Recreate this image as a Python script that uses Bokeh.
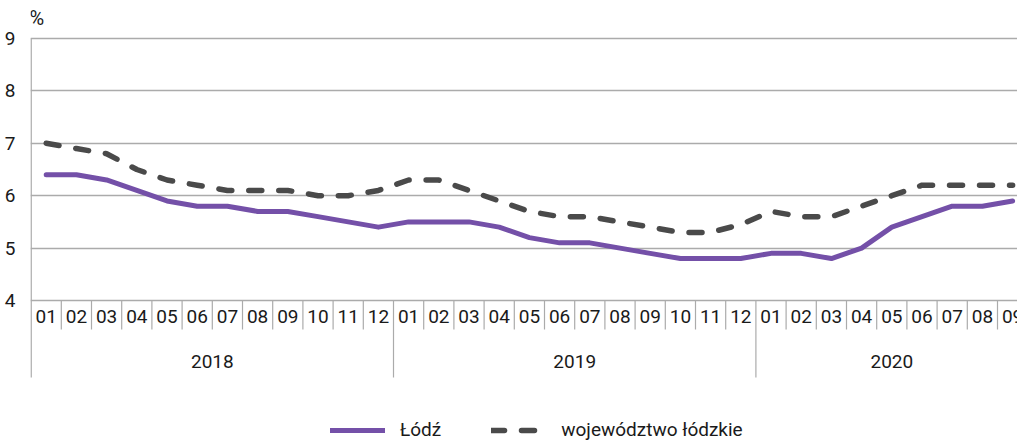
from bokeh.plotting import figure
from bokeh.models import Range1d, FixedTicker, Legend, LegendItem
from bokeh.core.properties import value
from bokeh.embed import file_html
from bokeh.resources import INLINE

# ---- data ----
years = ["2018", "2019", "2020"]
months_per_year = [12, 12, 9]
month_labels = ["01", "02", "03", "04", "05", "06", "07", "08", "09", "10", "11", "12",
                "01", "02", "03", "04", "05", "06", "07", "08", "09", "10", "11", "12",
                "01", "02", "03", "04", "05", "06", "07", "08", "09"]
lodz = [6.4, 6.4, 6.3, 6.1, 5.9, 5.8, 5.8, 5.7, 5.7, 5.6, 5.5, 5.4,
        5.5, 5.5, 5.5, 5.4, 5.2, 5.1, 5.1, 5.0, 4.9, 4.8, 4.8, 4.8,
        4.9, 4.9, 4.8, 5.0, 5.4, 5.6, 5.8, 5.8, 5.9]
woj = [7.0, 6.9, 6.8, 6.5, 6.3, 6.2, 6.1, 6.1, 6.1, 6.0, 6.0, 6.1,
       6.3, 6.3, 6.1, 5.9, 5.7, 5.6, 5.6, 5.5, 5.4, 5.3, 5.3, 5.45,
       5.7, 5.6, 5.6, 5.8, 6.0, 6.2, 6.2, 6.2, 6.2]
series_names = ["Łódź", "województwo łódzkie"]
y_ticks = [4, 5, 6, 7, 8, 9]
unit_label = "%"

# ---- styling / layout ----
FONT = "Roboto"
TXT = "#1a1a1a"
GRID = "#ababab"
PURPLE = "#7450a8"
DARK = "#4a4a4a"
PX = 52.4   # pixels per y unit
W = 1017
H = 442
LEFT = 30
SLOT = 30.2  # pixels per month
FS = "19px"

n = len(lodz)
xs = list(range(n))
ymin = min(y_ticks)
x0 = -0.52
x1 = x0 + (W - LEFT) / SLOT

p = figure(width=W, height=H, output_backend="svg", toolbar_location=None,
           x_range=Range1d(x0, x1), y_range=Range1d(4 - 142 / PX, 9 + 30 / PX),
           min_border_left=LEFT, min_border_right=0, min_border_top=8, min_border_bottom=0)
p.outline_line_color = None
p.xaxis.visible = False
p.xgrid.visible = False
p.ygrid.ticker = FixedTicker(ticks=y_ticks)
p.ygrid.grid_line_color = GRID
p.ygrid.grid_line_width = 1.3

ya = p.yaxis[0]
ya.ticker = FixedTicker(ticks=y_ticks)
ya.axis_line_color = None
ya.major_tick_line_color = None
ya.minor_tick_line_color = None
ya.major_label_standoff = 9
ya.major_label_text_font = FONT
ya.major_label_text_font_size = FS
ya.major_label_text_color = TXT

# left axis line (from top tick to the bottom of the category axis)
p.segment(x0=[-0.5], y0=[max(y_ticks)], x1=[-0.5], y1=[ymin - 77 / PX],
          line_color=GRID, line_width=1.5)

# month separators & year separators
year_starts = []
acc = 0
for m in months_per_year:
    year_starts.append(acc)
    acc += m
sep_month = [i + 0.5 for i in range(n - 1) if (i + 1) not in year_starts]
sep_year = [s - 0.5 for s in year_starts[1:]]
p.segment(x0=sep_month, y0=[ymin] * len(sep_month), x1=sep_month,
          y1=[ymin - 29 / PX] * len(sep_month), line_color=GRID, line_width=1.2)
p.segment(x0=sep_year, y0=[ymin] * len(sep_year), x1=sep_year,
          y1=[ymin - 77 / PX] * len(sep_year), line_color=GRID, line_width=1.2)

# month labels
p.text(x=xs, y=[ymin - 16 / PX] * n, text=month_labels, text_align="center",
       text_baseline="middle", text_font=value(FONT), text_font_size=FS,
       text_color=TXT)
# year labels
year_centers = [s + (m - 1) / 2 for s, m in zip(year_starts, months_per_year)]
p.text(x=year_centers, y=[ymin - 61 / PX] * len(years), text=years,
       text_align="center", text_baseline="middle", text_font=value(FONT),
       text_font_size=FS, text_color=TXT)
# unit label
p.text(x=[-0.55], y=[max(y_ticks) + 21 / PX], text=[unit_label], text_align="left",
       text_baseline="middle", text_font=value(FONT), text_font_size="20px",
       text_color=TXT)

# series
r1 = p.line(xs, lodz, line_color=PURPLE, line_width=5, line_join="round", line_cap="round")
r2 = p.line(xs, woj, line_color=DARK, line_width=5.5, line_dash="13 17",
            line_join="round", line_cap="round")

legend = Legend(items=[LegendItem(label=series_names[0], renderers=[r1]),
                       LegendItem(label=series_names[1], renderers=[r2])],
                orientation="horizontal", location=(300, 1), glyph_width=55,
                glyph_height=18, label_height=18, label_standoff=15, spacing=50,
                padding=0, margin=0, border_line_color=None, background_fill_alpha=0,
                label_text_font=FONT, label_text_font_size=FS,
                label_text_color=TXT)
p.add_layout(legend)

open("out.html", "w").write(file_html(p, INLINE))
